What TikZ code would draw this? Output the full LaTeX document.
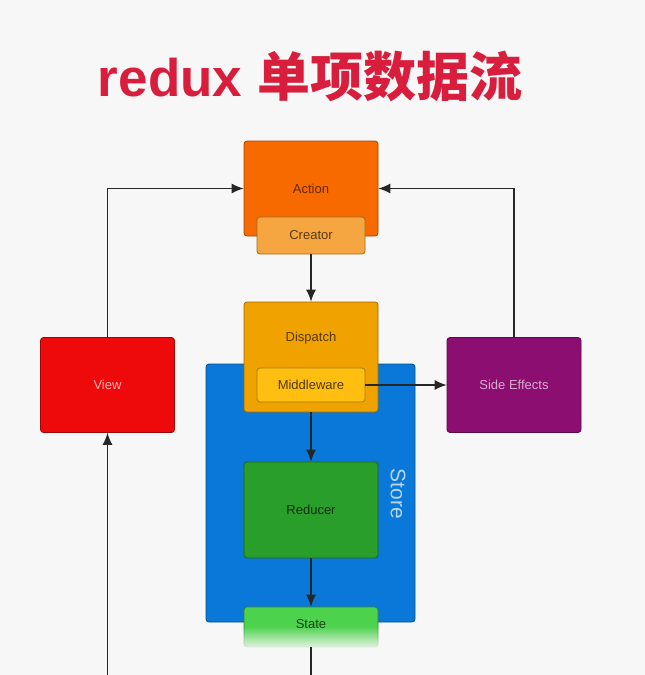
\documentclass[tikz,border=0pt]{standalone}
\usepackage{fontspec}
\setmainfont{Liberation Sans}
\newfontfamily\cjk{Noto Sans CJK SC}
\usetikzlibrary{arrows.meta,fadings}

\definecolor{titlered}{HTML}{D81E3C}
\definecolor{actionor}{HTML}{F76A00}
\definecolor{creatoror}{HTML}{F5A640}
\definecolor{dispatchor}{HTML}{F0A300}
\definecolor{middleyel}{HTML}{FFBE10}
\definecolor{storeblue}{HTML}{0A78D8}
\definecolor{reducergr}{HTML}{2A9E2A}
\definecolor{stategr}{HTML}{4CD24C}
\definecolor{viewred}{HTML}{EE0A0A}
\definecolor{sidepurple}{HTML}{8C0E70}

\tikzfading[name=fadedown, top color=transparent!100, bottom color=transparent!0]

\begin{document}
\begin{tikzpicture}[x=1pt,y=-1pt,
    box/.style={draw=#1!65!black, fill=#1, rounded corners=3pt, line width=0.8pt,
        inner sep=0pt, minimum width=134pt, minimum height=95pt,
        font=\fontsize{13}{15}\selectfont},
    subbox/.style={box=#1, minimum width=108pt, minimum height=36pt},
    link/.style={draw=black!85, line width=1.2pt, -{Latex[length=12pt,width=10pt]}}]
    % Canvas
    \useasboundingbox (0,0) rectangle (645,675);
    \clip (0,0) rectangle (645,675);
    \fill[white!97!black] (0,0) rectangle (645,675);

    % Title
    \node[text=titlered, font=\bfseries\fontsize{53}{58}\selectfont] (title) at (310,76) {redux {\cjk 单项数据流}};

    % Store
    \node[box=storeblue, minimum width=209pt, minimum height=258pt] (store) at (310.5,493) {};
    \node[text=storeblue!30!white, rotate=-90, font=\fontsize{21}{24}\selectfont] (storelbl) at (398,494) {Store};

    % Action and its creator
    \node[box=actionor, text=actionor!40!black] (action) at (311,188.5) {Action};
    \node[subbox=creatoror, text=creatoror!35!black, minimum height=37pt] (creator) at (311,235.5) {Creator};

    % Dispatch with middleware
    \node[box=dispatchor, minimum height=110pt] (dispatch) at (311,357) {};
    \node[text=dispatchor!35!black, font=\fontsize{13}{15}\selectfont] (dispatchlbl) at (311,338) {Dispatch};
    \node[subbox=middleyel, text=middleyel!30!black, minimum height=34pt] (middleware) at (311,385) {Middleware};

    % Reducer and state
    \node[box=reducergr, text=reducergr!30!black, minimum height=96pt] (reducer) at (311,510) {Reducer};
    \node[box=stategr, minimum height=40pt] (state) at (311,627) {};
    \node[text=stategr!30!black, font=\fontsize{13}{15}\selectfont] (statelbl) at (311,624) {State};
    \fill[white!97!black, path fading=fadedown] (238,626) rectangle (384,650);

    % View and side effects
    \node[box=viewred, text=viewred!30!white] (view) at (107.5,385) {View};
    \node[box=sidepurple, text=sidepurple!35!white] (effects) at (514,385) {Side Effects};

    % Flow
    \draw[link] (view.north) |- (action.west);
    \draw[link] (effects.north) |- (action.east);
    \draw[link] (creator) -- (dispatch);
    \draw[link] (middleware.east) -- (effects.west);
    \draw[link] (dispatch) -- (reducer);
    \draw[link] (reducer) -- (state);
    \draw[link] (state.south) -- ++(0,60) -| (view.south);
\end{tikzpicture}
\end{document}
